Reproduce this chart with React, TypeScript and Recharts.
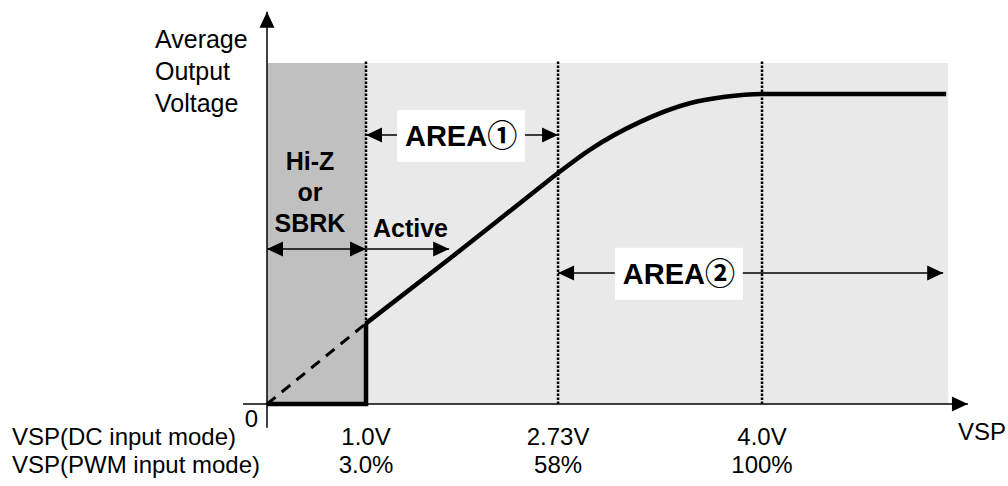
import { LineChart, Line, XAxis, YAxis, ReferenceArea, ReferenceLine, ReferenceDot } from "recharts";

const FONT = "'Liberation Sans', Arial, sans-serif";
const CJK = "'Noto Sans CJK JP', 'Liberation Sans', sans-serif";

// schematic x positions of the marked thresholds (axis is not to scale)
const markPos = [1, 2.94, 5];
const dcLabels = ["1.0V", "2.73V", "4.0V"];
const pwmLabels = ["3.0%", "58%", "100%"];

// output voltage, normalised to the plateau
const basePath = [
  { x: 0, y: 0 },
  { x: 1, y: 0 },
  { x: 1, y: 0.26 },
];
const dashedPath = [
  { x: 0, y: 0 },
  { x: 1, y: 0.26 },
];
const curveX = [1, 1.85, 2.76, 2.94, 3.26, 3.77, 4.27, 4.61, 5, 6.86];
const curveY = [0.26, 0.47, 0.7, 0.745, 0.82, 0.91, 0.97, 0.99, 1, 1];
const curvePath = curveX.map((x, i) => ({ x, y: curveY[i] }));

const HEAD_LEN = 16;
const HEAD_HALF = 7.5;

function arrowShape(start: boolean, end: boolean) {
  return (p: any) => {
    const { x1, y1, x2, y2 } = p;
    const len = Math.hypot(x2 - x1, y2 - y1) || 1;
    const ux = (x2 - x1) / len;
    const uy = (y2 - y1) / len;
    const head = (tx: number, ty: number, dx: number, dy: number) => {
      const bx = tx - dx * HEAD_LEN;
      const by = ty - dy * HEAD_LEN;
      return `${tx},${ty} ${bx - dy * HEAD_HALF},${by + dx * HEAD_HALF} ${bx + dy * HEAD_HALF},${by - dx * HEAD_HALF}`;
    };
    return (
      <g>
        <line x1={x1} y1={y1} x2={x2} y2={y2} stroke="#000" strokeWidth={1.5} />
        {start && <polygon points={head(x1, y1, -ux, -uy)} fill="#000" />}
        {end && <polygon points={head(x2, y2, ux, uy)} fill="#000" />}
      </g>
    );
  };
}

function boxLabel(text: string, mark: string) {
  return (p: any) => (
    <g>
      <rect x={p.cx - 64} y={p.cy - 26} width={128} height={52} fill="#fff" />
      <text x={p.cx} y={p.cy + 10} textAnchor="middle" fontSize={29} fontWeight="bold" fontFamily={FONT} fill="#000">
        {text}
        <tspan fontFamily={CJK} fontSize={30}>
          {mark}
        </tspan>
      </text>
    </g>
  );
}

function textLines(lines: string[], opts: { anchor?: string; bold?: boolean; lh?: number; size?: number } = {}) {
  const { anchor = "start", bold = false, lh = 32, size = 25 } = opts;
  return (p: any) => (
    <text
      x={p.cx}
      y={p.cy}
      textAnchor={anchor}
      fontSize={size}
      fontWeight={bold ? "bold" : "normal"}
      fontFamily={FONT}
      fill="#000"
    >
      {lines.map((l, i) => (
        <tspan key={i} x={p.cx} dy={i ? lh : 0}>
          {l}
        </tspan>
      ))}
    </text>
  );
}

function VspTick(props: any) {
  const { x, y, payload } = props;
  const i = markPos.indexOf(payload.value);
  if (i < 0) return null;
  return (
    <g fontFamily={FONT} fontSize={24} fill="#000">
      <text x={x} y={y + 41} textAnchor="middle">
        {dcLabels[i]}
      </text>
      <text x={x} y={y + 69} textAnchor="middle">
        {pwmLabels[i]}
      </text>
    </g>
  );
}

export default function App() {
  return (
    <div style={{ position: "absolute", left: 0, top: 0, background: "#fff" }}>
      <LineChart width={1008} height={486} margin={{ top: 1, right: 48, bottom: 22, left: 267 }}>
        <XAxis
          dataKey="x"
          type="number"
          domain={[0, 7]}
          ticks={markPos}
          interval={0}
          axisLine={false}
          tickLine={false}
          tickSize={0}
          tickMargin={0}
          height={60}
          tick={<VspTick />}
        />
        <YAxis type="number" domain={[0, 1.3]} hide />

        <ReferenceArea x1={0} x2={1} y1={0} y2={1.1} fill="#c0c0c0" fillOpacity={1} stroke="none" />
        <ReferenceArea x1={1} x2={6.88} y1={0} y2={1.1} fill="#e9e9e9" fillOpacity={1} stroke="none" />

        {markPos.map((x) => (
          <ReferenceLine
            key={x}
            segment={[
              { x, y: 0 },
              { x, y: 1.105 },
            ]}
            stroke="#000"
            strokeWidth={2.5}
            strokeDasharray="2.5 1.5"
          />
        ))}

        <Line data={dashedPath} dataKey="y" type="linear" stroke="#000" strokeWidth={3} strokeDasharray="11 8" dot={false} isAnimationActive={false} />
        <Line data={basePath} dataKey="y" type="linear" stroke="#000" strokeWidth={4.5} dot={false} isAnimationActive={false} />
        <Line data={curvePath} dataKey="y" type="monotone" stroke="#000" strokeWidth={4.5} dot={false} isAnimationActive={false} />

        {/* axes with arrowheads */}
        <ReferenceLine
          segment={[
            { x: -0.242, y: 0 },
            { x: 7.08, y: 0 },
          ]}
          ifOverflow="visible"
          shape={arrowShape(false, true)}
        />
        <ReferenceLine
          segment={[
            { x: 0, y: -0.077 },
            { x: 0, y: 1.265 },
          ]}
          ifOverflow="visible"
          shape={arrowShape(false, true)}
        />

        {/* region arrows */}
        <ReferenceLine segment={[{ x: 0, y: 0.5 }, { x: 1, y: 0.5 }]} ifOverflow="visible" shape={arrowShape(true, true)} />
        <ReferenceLine segment={[{ x: 1, y: 0.5 }, { x: 1.84, y: 0.5 }]} ifOverflow="visible" shape={arrowShape(false, true)} />
        <ReferenceLine segment={[{ x: 1, y: 0.868 }, { x: 2.94, y: 0.868 }]} ifOverflow="visible" shape={arrowShape(true, true)} />
        <ReferenceLine segment={[{ x: 2.94, y: 0.4226 }, { x: 6.83, y: 0.4226 }]} ifOverflow="visible" shape={arrowShape(true, true)} />

        <ReferenceDot x={1.96} y={0.865} r={1} ifOverflow="visible" shape={boxLabel("AREA", "①")} />
        <ReferenceDot x={4.16} y={0.42} r={1} ifOverflow="visible" shape={boxLabel("AREA", "②")} />

        {/* texts */}
        <ReferenceDot x={-1.131} y={1.148} r={1} ifOverflow="visible" shape={textLines(["Average", "Output", "Voltage"])} />
        <ReferenceDot x={0.434} y={0.755} r={1} ifOverflow="visible" shape={textLines(["Hi-Z", "or", "SBRK"], { anchor: "middle", bold: true, lh: 31 })} />
        <ReferenceDot x={1.07} y={0.539} r={1} ifOverflow="visible" shape={textLines(["Active"], { bold: true })} />
        <ReferenceDot x={-0.09} y={-0.074} r={1} ifOverflow="visible" shape={textLines(["0"], { anchor: "end", size: 24 })} />
        <ReferenceDot x={6.98} y={-0.116} r={1} ifOverflow="visible" shape={textLines(["VSP"], { size: 24 })} />
        <ReferenceDot
          x={-2.576}
          y={-0.132}
          r={1}
          ifOverflow="visible"
          shape={textLines(["VSP(DC input mode)", "VSP(PWM input mode)"], { lh: 28, size: 24 })}
        />
      </LineChart>
    </div>
  );
}
